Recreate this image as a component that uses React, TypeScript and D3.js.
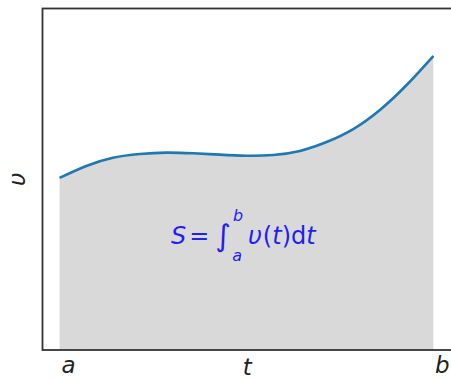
import React from "react";
import * as d3 from "d3";

const tValues = [2.0, 2.5, 3.0, 3.5, 4.0, 4.5, 5.0, 5.5, 6.0, 6.5, 7.0, 7.5, 8.0, 8.5, 9.0];
const vValues = [50.4, 53.9, 56.3, 57.4, 57.8, 57.6, 57.2, 56.9, 57.1, 58.3, 60.9, 64.7, 70.3, 77.6, 86.1];
const xTickValues = [2, 9];
const xTickLabels = ["a", "b"];
const xLabel = "t";
const yLabel = "υ";

const W = 451;
const H = 379;
const left = 42.5;
const right = 452;
const top = 8.5;
const bottom = 350;

export default function App() {
  const x = d3.scaleLinear().domain([1.68, 9.35]).range([left, right]);
  const y = d3.scaleLinear().domain([0, 100]).range([bottom, top]);
  const pts: [number, number][] = tValues.map((t, i) => [t, vValues[i]]);
  const line = d3
    .line<[number, number]>()
    .x((d) => x(d[0]))
    .y((d) => y(d[1]))
    .curve(d3.curveNatural);
  const area = d3
    .area<[number, number]>()
    .x((d) => x(d[0]))
    .y0(y(0))
    .y1((d) => y(d[1]))
    .curve(d3.curveNatural);
  const font = "'DejaVu Sans', sans-serif";
  const fs = 23;
  return (
    <div style={{ position: "fixed", left: 0, top: 0 }}>
      <svg width={W} height={H} style={{ display: "block", background: "#fff" }}>
        <path d={area(pts) || ""} fill="#d9d9d9" />
        <path d={line(pts) || ""} fill="none" stroke="#1f77b4" strokeWidth={2.6} />
        {/* spines */}
        <rect x={left} y={top} width={right - left} height={bottom - top} fill="none" stroke="#333" strokeWidth={1.8} />
        {/* tick labels */}
        {xTickValues.map((v, i) => (
          <text
            key={i}
            x={x(v) + 9}
            y={373}
            textAnchor="middle"
            fontFamily={font}
            fontStyle="italic"
            fontSize={fs}
            fill="#222"
          >
            {xTickLabels[i]}
          </text>
        ))}
        <text x={(left + right) / 2} y={375} textAnchor="middle" fontFamily={font} fontStyle="italic" fontSize={fs} fill="#222">
          {xLabel}
        </text>
        <text
          transform={`translate(25, ${(top + bottom) / 2}) rotate(-90)`}
          textAnchor="middle"
          fontFamily={font}
          fontStyle="italic"
          fontSize={fs}
          fill="#222"
        >
          {yLabel}
        </text>
        {/* formula */}
        <text x={171} y={244} fontFamily={font} fontSize={24} fill="#1e1ef5">
          <tspan fontStyle="italic">S</tspan>
          <tspan dx={3}>=</tspan>
          <tspan dx={6} fontSize={30} dy={2}>∫</tspan>
          <tspan dx={2} dy={-25} fontSize={16} fontStyle="italic">b</tspan>
          <tspan dx={-11} dy={40} fontSize={16} fontStyle="italic">a</tspan>
          <tspan dx={6} dy={-17} fontStyle="italic">υ</tspan>
          <tspan dx={1}>(</tspan>
          <tspan fontStyle="italic">t</tspan>
          <tspan>)d</tspan>
          <tspan fontStyle="italic">t</tspan>
        </text>
      </svg>
    </div>
  );
}
